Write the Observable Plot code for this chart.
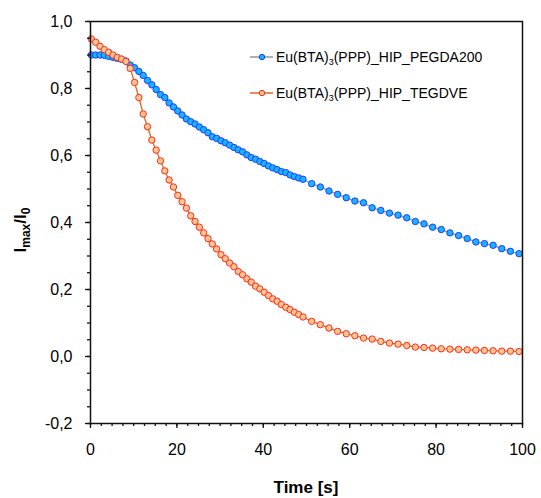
<!DOCTYPE html>
<html><head><meta charset="utf-8">
<script src="https://cdn.jsdelivr.net/npm/d3@7"></script>
<script src="https://cdn.jsdelivr.net/npm/@observablehq/plot@0.6"></script>
<style>body{margin:0;background:#fff}</style>
</head><body><div id="chart"></div>
<script>
const time = [0.2,1.2,2.2,3.2,4.2,5.2,6.2,7.2,8.2,9.2,10.2,11.2,12.2,13.2,14.2,15.2,16.2,17.2,18.2,19.2,
  20.2,21.2,22.2,23.2,24.2,25.2,26.2,27.2,28.2,29.2,30.2,31.2,32.2,33.2,34.2,35.2,36.2,37.2,38.2,39.2,
  40.2,41.2,42.2,43.2,44.2,45.2,46.2,47.2,48.2,49.2,
  51.2,53.2,55.2,57.2,59.2,61.2,63.2,65.2,67.2,69.2,71.2,73.2,75.2,77.2,79.2,81.2,83.2,85.2,87.2,89.2,
  91.2,93.2,95.2,97.2,99.2];
const pegda200 = [0.900,0.900,0.900,0.899,0.896,0.893,0.890,0.887,0.882,0.870,0.862,0.851,0.839,0.824,0.811,0.797,0.782,0.773,0.757,0.745,
  0.733,0.721,0.709,0.701,0.694,0.685,0.677,0.668,0.656,0.651,0.644,0.638,0.631,0.624,0.617,0.611,0.602,0.594,0.589,0.582,
  0.576,0.569,0.563,0.558,0.552,0.549,0.542,0.537,0.533,0.529,
  0.516,0.506,0.494,0.484,0.474,0.464,0.459,0.444,0.436,0.428,0.422,0.414,0.403,0.396,0.386,0.379,0.369,0.361,0.352,0.342,
  0.337,0.332,0.322,0.314,0.307];
const tegdve = [0.948,0.938,0.926,0.916,0.908,0.900,0.893,0.888,0.881,0.860,0.818,0.773,0.724,0.686,0.646,0.616,0.584,0.554,0.527,0.506,
  0.481,0.462,0.443,0.420,0.403,0.386,0.369,0.352,0.336,0.321,0.304,0.292,0.279,0.268,0.254,0.244,0.232,0.222,0.210,0.202,
  0.192,0.182,0.172,0.165,0.155,0.147,0.140,0.132,0.125,0.118,
  0.105,0.095,0.085,0.075,0.068,0.062,0.055,0.052,0.045,0.040,0.037,0.033,0.028,0.027,0.025,0.023,0.022,0.021,0.020,0.019,
  0.018,0.017,0.016,0.016,0.015];
const xTicks = [0,20,40,60,80,100];
const yTicks = [-0.2,0,0.2,0.4,0.6,0.8,1.0];
const xMinor = d3.range(0, 100.01, 2.5);
const yMinor = d3.range(-0.2, 1.001, 0.05).map(v => +v.toFixed(2));
const xDomain = [0, 100];
const yDomain = [-0.2, 1.0];
const seriesNames = ["PEGDA200", "TEGDVE"];

const blue = time.map((t, i) => ({t, v: pegda200[i]}));
const red = time.map((t, i) => ({t, v: tegdve[i]}));
const comma = d => d.toFixed(1).replace(".", ",");
const font = "Arial, 'Liberation Sans', sans-serif";

const C = {
  blueLine: "#8a96a4", blueFill: "#19b4ff", blueStroke: "#1e3cff",
  redLine: "#d9692a", redFill: "#ffc690", redStroke: "#ff2a1a"
};

const plot = Plot.plot({
  width: 541, height: 498,
  marginLeft: 90, marginRight: 19, marginTop: 21, marginBottom: 75,
  style: {fontFamily: font, fontSize: "16px", color: "#000", background: "white"},
  x: {domain: xDomain},
  y: {domain: yDomain},
  marks: [
    Plot.line(blue, {x: "t", y: "v", stroke: C.blueLine, strokeWidth: 1.3}),
    Plot.dot(blue, {x: "t", y: "v", r: 3.2, fill: C.blueFill, stroke: C.blueStroke, strokeWidth: 1}),
    Plot.line(red, {x: "t", y: "v", stroke: C.redLine, strokeWidth: 1.3}),
    Plot.dot(red, {x: "t", y: "v", r: 3.2, fill: C.redFill, stroke: C.redStroke, strokeWidth: 1}),
    Plot.axisY({ticks: yMinor, tickSize: 3, tickFormat: () => "", label: null, stroke: "#111", strokeWidth: 1.3}),
    Plot.axisY({ticks: yTicks, tickSize: 5, tickPadding: 13, tickFormat: comma, label: null, stroke: "#111", strokeWidth: 1.3}),
    Plot.axisX({ticks: xMinor, tickSize: 3, tickFormat: () => "", label: null, stroke: "#111", strokeWidth: 1.3}),
    Plot.axisX({ticks: xTicks, tickSize: 5, tickPadding: 15, tickFormat: d => String(d), label: null, stroke: "#111", strokeWidth: 1.3}),
    Plot.frame({stroke: "#111", strokeWidth: 1.5})
  ]
});
document.getElementById("chart").appendChild(plot);

const svg = d3.select(plot);
// axis titles
svg.append("text").attr("x", 306).attr("y", 493).attr("text-anchor", "middle")
  .attr("font-family", font).attr("font-size", 17).attr("font-weight", "bold").text("Time [s]");
const yt = svg.append("text").attr("transform", "translate(26,230) rotate(-90)").attr("text-anchor", "middle")
  .attr("font-family", font).attr("font-size", 17).attr("font-weight", "bold");
yt.append("tspan").text("I");
yt.append("tspan").attr("font-size", 12).attr("dy", 4).text("max");
yt.append("tspan").attr("dy", -4).text("/I");
yt.append("tspan").attr("font-size", 12).attr("dy", 4).text("0");

// legend
const leg = [
  {name: seriesNames[0], y: 57, line: C.blueLine, fill: C.blueFill, stroke: C.blueStroke},
  {name: seriesNames[1], y: 93, line: C.redLine, fill: C.redFill, stroke: C.redStroke}
];
leg.forEach(d => {
  const g = svg.append("g");
  g.append("line").attr("x1", 250).attr("x2", 273).attr("y1", d.y).attr("y2", d.y)
    .attr("stroke", d.line).attr("stroke-width", 1.5);
  g.append("circle").attr("cx", 262).attr("cy", d.y).attr("r", 2.7)
    .attr("fill", d.fill).attr("stroke", d.stroke).attr("stroke-width", 1);
  const t = g.append("text").attr("x", 276).attr("y", d.y + 5).attr("text-anchor", "start")
    .attr("font-family", font).attr("font-size", 14);
  t.append("tspan").text("Eu(BTA)");
  t.append("tspan").attr("font-size", 9).attr("dy", 3).text("3");
  t.append("tspan").attr("dy", -3).text("(PPP)_HIP_" + d.name);
});
</script>
</body></html>
